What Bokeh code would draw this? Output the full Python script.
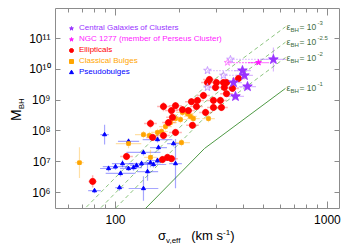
import numpy as np
from bokeh.plotting import figure
from bokeh.layouts import row, column
from bokeh.models import (Range1d, FixedTicker, CustomJSTickFormatter, LogAxis, Label,
                          Legend, LegendItem, Div)
from bokeh.embed import file_html
from bokeh.resources import INLINE

FONT = "Liberation Sans"

# ---------------- data: velocity dispersion (km/s) and log10 M_BH ----------------
# Ellipticals
ell_sigma = [78, 112.7, 166.6, 175.9, 183.7, 149.6, 168.4, 191.9, 146.2, 177.8, 185.7, 183.7,
             168.4, 191.9, 207, 220.9, 228.2, 243.6, 241, 260, 266, 230.7, 289.8, 312.6,
             289.8, 316.1, 271.6, 277.5, 299.5, 323, 334, 296.3, 326.3, 356.3, 334, 380.4]
ell_logm = [6.36, 7.17, 7.07, 7.14, 7.10, 7.79, 7.85, 7.95, 8.24, 8.27, 8.44, 8.66,
            8.79, 8.82, 8.69, 8.66, 8.95, 8.99, 8.79, 9.15, 8.60, 8.18, 8.99, 8.99,
            8.76, 8.76, 9.57, 9.67, 9.57, 9.57, 9.57, 9.41, 9.41, 9.38, 9.21, 9.70]
ell_dx = [0.02, 0.03, 0.03, 0.03, 0.03, 0.03, 0.03, 0.03, 0.03, 0.03, 0.03, 0.03,
          0.03, 0.03, 0.03, 0.03, 0.03, 0.03, 0.03, 0.03, 0.03, 0.03, 0.03, 0.03,
          0.03, 0.03, 0.03, 0.03, 0.03, 0.03, 0.03, 0.03, 0.03, 0.03, 0.03, 0.03]
ell_dy = [0.20, 0.12, 0.12, 0.12, 0.12, 0.12, 0.12, 0.12, 0.15, 0.12, 0.12, 0.12,
          0.15, 0.12, 0.12, 0.12, 0.12, 0.12, 0.12, 0.12, 0.12, 0.12, 0.12, 0.12,
          0.12, 0.12, 0.12, 0.12, 0.12, 0.12, 0.12, 0.12, 0.12, 0.12, 0.12, 0.12]

# Classical bulges
bul_sigma = [67.6, 115.2, 135.5, 144.6, 157.8, 164.8, 172.1, 146.2, 204.8, 191.9, 202.6,
             207, 218.6, 225.8, 233.1, 274.6, 181.7]
bul_logm = [6.97, 7.59, 7.88, 7.85, 7.95, 7.98, 8.14, 7.14, 7.62, 8.40, 8.37,
            8.60, 8.56, 8.47, 8.40, 8.40, 8.27]
bul_dx = [0.02, 0.06, 0.04, 0.04, 0.03, 0.03, 0.03, 0.03, 0.04, 0.03, 0.03,
          0.03, 0.03, 0.03, 0.03, 0.03, 0.03]
bul_dy = [0.50, 0.15, 0.12, 0.12, 0.12, 0.12, 0.12, 0.25, 0.12, 0.15, 0.12,
          0.12, 0.12, 0.12, 0.12, 0.12, 0.12]

# Pseudobulges
pse_sigma = [79.6, 88.8, 92.7, 100, 104.4, 105.6, 107.9, 115.2, 115.2, 121.6, 125.6,
             132.7, 135.5, 135.5, 141.6, 146.2, 151.1, 157.8, 157.8, 159.5, 187.7, 191.9]
pse_logm = [6.06, 7.88, 6.78, 6.84, 6.16, 6.62, 6.94, 6.78, 7.66, 6.81, 6.88,
            6.94, 7.30, 6.13, 6.68, 6.97, 6.91, 7.04, 7.72, 7.46, 7.59, 6.94]
pse_dx = [0.03, 0.02, 0.04, 0.06, 0.02, 0.07, 0.05, 0.04, 0.05, 0.04, 0.03,
          0.06, 0.08, 0.07, 0.05, 0.05, 0.06, 0.05, 0.07, 0.04, 0.03, 0.03]
pse_dy = [0.08, 0.32, 0.10, 0.10, 0.10, 0.10, 0.12, 0.08, 0.10, 0.10, 0.10,
          0.10, 0.10, 0.40, 0.30, 0.15, 0.10, 0.10, 0.10, 0.10, 0.10, 0.80]

# Central galaxies of clusters (filled) and their alternative (open) estimates
bcg_sigma = [556, 397.2, 405.9, 360.4, 419.6, 368.2]
bcg_logm = [10.32, 9.96, 9.80, 9.57, 9.44, 9.12]
bcg_dx = [0.06, 0.04, 0.04, 0.04, 0.04, 0.04]
bcg_dy = [0.39, 0.12, 0.12, 0.12, 0.12, 0.12]
bcg_open_sigma = [348.6, 271.6, 323, 271.6]
bcg_open_logm = [10.32, 9.96, 9.80, 9.41]
bcg_open_link = [0, 1, 2, 4]

# NGC 1277
ngc_sigma = [473]
ngc_logm = [10.22]
ngc_dx = [0.05]
ngc_open_sigma = [337.5]

# epsilon_BH model curves (shape for eps = 10^-1, shifted by 1 dex per dex in eps)
eps_curve_logsigma = [1.70, 2.42, 2.802]
eps_curve_logm = [2.39, 7.43, 9.38]
eps_exponents = [-3, -2.5, -2, -1]
eps_sup_text = ["-3", "-2.5", "-2", "-1"]

y_tick_values = [1e6, 1e7, 1e8, 1e9, 1e10, 1e11]
x_tick_values = [100, 1000]
x_minor_values = [60, 70, 80, 90, 200, 300, 400, 500, 600, 700, 800, 900]

# ---------------- colours ----------------
C_BCG = "#9933ff"
C_BCG_OPEN = "#c99bff"
C_NGC = "#ff1aff"
C_ELL = "#ff0000"
C_BUL = "#ffa500"
C_PSE = "#0000ff"
C_DASH = "#8cc47f"
C_SOLID = "#4f9a45"
C_AXIS = "#8c8c8c"

YDIV_W = 26
XDIV_H = 19
FIG_W = 349 - YDIV_W
FIG_H = 251 - XDIV_H

p = figure(width=FIG_W, height=FIG_H, x_axis_type="log", y_axis_type="log",
           x_range=Range1d(52.1, 1140), y_range=Range1d(10**5.481, 10**11.974),
           output_backend="svg", toolbar_location=None,
           min_border_left=55 - YDIV_W, min_border_right=10, min_border_top=8,
           min_border_bottom=FIG_H - 208, margin=0)
p.xgrid.visible = False
p.ygrid.visible = False
p.outline_line_color = C_AXIS
p.outline_line_width = 1
p.background_fill_color = "white"
p.border_fill_color = "white"

xt = FixedTicker(ticks=x_tick_values, minor_ticks=x_minor_values)
yt = FixedTicker(ticks=y_tick_values, minor_ticks=[])

sup_js = """
const s = {'0':'\u2070','1':'\u00b9','2':'\u00b2','3':'\u00b3','4':'\u2074','5':'\u2075',
           '6':'\u2076','7':'\u2077','8':'\u2078','9':'\u2079','-':'\u207b'};
const e = Math.round(Math.log10(tick));
return '10' + String(e).split('').map(c => s[c]).join('');
"""

def style_axis(ax, labels=True):
    ax.axis_line_color = None
    ax.major_tick_line_color = C_AXIS
    ax.minor_tick_line_color = C_AXIS
    ax.major_tick_out = 0
    ax.minor_tick_out = 0
    ax.major_label_text_font = FONT
    ax.major_label_text_font_size = "12px"
    ax.major_label_text_color = "black"
    if not labels:
        ax.major_label_text_font_size = "0px"
        ax.major_label_standoff = 0
        ax.formatter = CustomJSTickFormatter(code="return ''")

p.xaxis.ticker = xt
p.xaxis.formatter = CustomJSTickFormatter(code="return tick.toFixed(0)")
style_axis(p.xaxis[0])
p.xaxis.major_tick_in = 7
p.xaxis.minor_tick_in = 4
p.xaxis.major_label_standoff = 6

p.yaxis.ticker = yt
p.yaxis.formatter = CustomJSTickFormatter(code=sup_js)
style_axis(p.yaxis[0])
p.yaxis.major_tick_in = 5
p.yaxis.major_label_standoff = 5

top = LogAxis(ticker=xt)
style_axis(top, labels=False)
top.major_tick_in = 7
top.minor_tick_in = 4
p.add_layout(top, "above")
right = LogAxis(ticker=yt)
style_axis(right, labels=False)
right.major_tick_in = 5
p.add_layout(right, "right")

# ---------------- epsilon lines ----------------
base_s = 10 ** np.array(eps_curve_logsigma)
for ex, sup in zip(eps_exponents, eps_sup_text):
    shift = -ex - 1
    ym = 10 ** (np.array(eps_curve_logm) + shift)
    if ex == -1:
        p.line(base_s, ym, line_color=C_SOLID, line_width=1)
    else:
        p.line(base_s, ym, line_color=C_DASH, line_width=1, line_dash="4 3")
    xe, ye = base_s[-1], ym[-1]
    pieces = [("\u03b5", 9, 1, 0), ("BH", 6, 5, -3), ("= 10", 8.5, 14, 0), (sup, 6, 32, 4)]
    for txt, fs, dx, dy in pieces:
        p.add_layout(Label(x=xe, y=ye, text=txt, x_offset=dx, y_offset=dy,
                           text_font=FONT, text_font_size=f"{fs}px", text_color="#3d6b3d",
                           text_baseline="middle", text_align="left"))

# ---------------- error bars ----------------
def errbars(sig, logm, dx, dy, color, alpha=0.35, width=1.2):
    s = np.array(sig, float); m = np.array(logm, float)
    y = 10 ** m
    if dx is not None:
        dxa = np.array(dx, float)
        p.segment(s / 10 ** dxa, y, s * 10 ** dxa, y, line_color=color, line_alpha=alpha, line_width=width)
    if dy is not None:
        dya = np.array(dy, float)
        p.segment(s, 10 ** (m - dya), s, 10 ** (m + dya), line_color=color, line_alpha=alpha, line_width=width)

errbars(pse_sigma, pse_logm, pse_dx, pse_dy, C_PSE)
errbars(bul_sigma, bul_logm, bul_dx, bul_dy, C_BUL)
errbars(ell_sigma, ell_logm, ell_dx, ell_dy, C_ELL, alpha=0.3, width=1.5)
errbars(bcg_sigma, bcg_logm, bcg_dx, bcg_dy, C_BCG, alpha=0.35)
errbars(ngc_sigma, ngc_logm, ngc_dx, None, C_NGC, alpha=0.5)

# dotted links between open and filled stars
bo_s = np.array(bcg_open_sigma); bo_m = 10 ** np.array(bcg_open_logm)
linked_s = np.array(bcg_sigma)[bcg_open_link]
p.segment(bo_s, bo_m, linked_s, bo_m, line_color=C_BCG_OPEN, line_dash="1 2", line_width=1.2)
p.segment(ngc_open_sigma, 10 ** np.array(ngc_logm), ngc_sigma, 10 ** np.array(ngc_logm),
          line_color=C_NGC, line_dash="1 2", line_width=1.2)

# ---------------- markers ----------------
r_pse = p.scatter(pse_sigma, 10 ** np.array(pse_logm), marker="triangle", size=4,
                  fill_color=C_PSE, line_color=C_PSE)
r_bul = p.scatter(bul_sigma, 10 ** np.array(bul_logm), marker="square", size=3.5,
                  fill_color=C_BUL, line_color=C_BUL)
r_ell = p.scatter(ell_sigma, 10 ** np.array(ell_logm), marker="circle", size=6,
                  fill_color=C_ELL, line_color=C_ELL)
p.scatter(bcg_open_sigma, 10 ** np.array(bcg_open_logm), marker="star", size=8,
          fill_color=None, line_color=C_BCG_OPEN, line_width=1)
p.scatter(ngc_open_sigma, 10 ** np.array(ngc_logm), marker="star", size=7,
          fill_color=None, line_color="#ff88ff", line_width=1)
r_bcg = p.scatter(bcg_sigma, 10 ** np.array(bcg_logm), marker="star", size=10,
                  fill_color=C_BCG, line_color=C_BCG)
r_ngc = p.scatter(ngc_sigma, 10 ** np.array(ngc_logm), marker="star", size=6,
                  fill_color=C_NGC, line_color=C_NGC)

# ---------------- legend (one per entry to colour each label) ----------------
entries = [("Central Galaxies of Clusters", r_bcg, C_BCG),
           ("NGC 1277 (member of Perseus Cluster)", r_ngc, C_NGC),
           ("Ellipticals", r_ell, C_ELL),
           ("Classical Bulges", r_bul, C_BUL),
           ("Pseudobulges", r_pse, C_PSE)]
for i, (lab, r, col) in enumerate(entries):
    lg = Legend(items=[LegendItem(label=lab, renderers=[r])], location=(11, 175 - 11 * i),
                label_text_font=FONT, label_text_font_size="8px", label_text_color=col,
                glyph_width=10, glyph_height=10, label_height=11, label_standoff=3,
                padding=0, margin=0, spacing=0, border_line_color=None,
                background_fill_alpha=0)
    p.add_layout(lg, "center")

# ---------------- axis titles (HTML text with sub/superscripts) ----------------
ylab_html = (
    f'<div style="position:relative;width:{YDIV_W}px;height:{FIG_H}px;">'
    '<span style="position:absolute;left:9px;top:121px;transform-origin:0 0;'
    f'transform:rotate(-90deg);white-space:nowrap;font-family:\'{FONT}\';font-size:14px;'
    'line-height:14px;color:black;">M<span style="font-size:8px;line-height:0;'
    'vertical-align:-3px;">BH</span></span></div>'
)
xlab_html = (
    f'<div style="position:relative;width:{FIG_W}px;height:{XDIV_H}px;">'
    f'<span style="position:absolute;left:{158 - YDIV_W}px;top:-3px;white-space:nowrap;'
    f'font-family:\'{FONT}\';font-size:13px;line-height:13px;color:black;">'
    '\u03c3<span style="font-size:8px;line-height:0;vertical-align:-3px;">v,eff</span>'
    '&nbsp;&nbsp;&nbsp;(km s<span style="font-size:8px;line-height:0;vertical-align:5px;">-1</span>)'
    '</span></div>'
)
div_y = Div(text=ylab_html, width=YDIV_W, height=FIG_H, margin=0,
            styles={"overflow": "visible"})
div_x = Div(text=xlab_html, width=FIG_W, height=XDIV_H, margin=0,
            styles={"overflow": "visible"})

layout = row(div_y, column(p, div_x, spacing=0, margin=0), spacing=0, margin=0)

open("out.html", "w").write(file_html(layout, INLINE))
